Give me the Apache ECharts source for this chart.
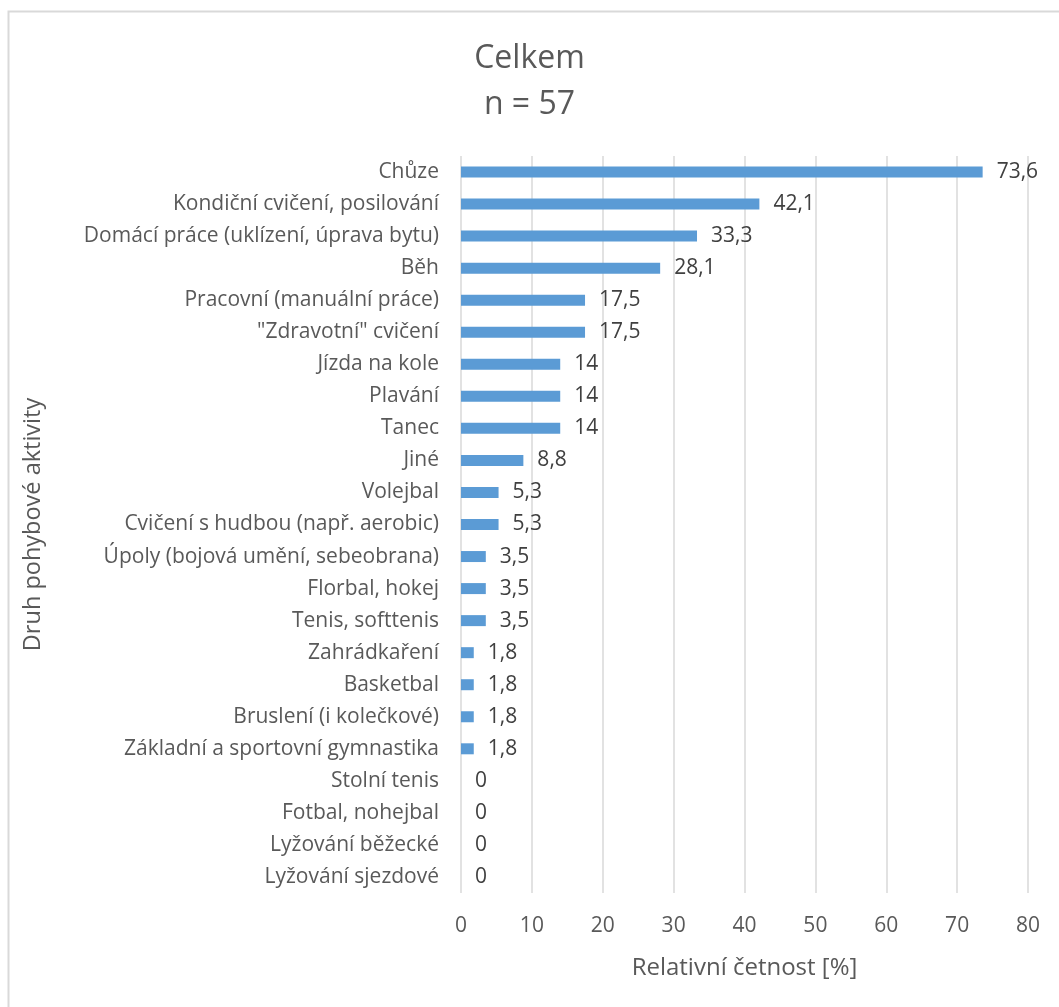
<!DOCTYPE html>
<html><head><meta charset="utf-8">
<script src="https://cdn.jsdelivr.net/npm/echarts@6/dist/echarts.min.js"></script>
<style>html,body{margin:0;padding:0;background:#fff}#c{width:1059px;height:1007px}</style>
</head><body><div id="c"></div>
<script>
const categories = ["Chůze","Kondiční cvičení, posilování","Domácí práce (uklízení, úprava bytu)","Běh","Pracovní (manuální práce)","\"Zdravotní\" cvičení","Jízda na kole","Plavání","Tanec","Jiné","Volejbal","Cvičení s hudbou (např. aerobic)","Úpoly (bojová umění, sebeobrana)","Florbal, hokej","Tenis, softtenis","Zahrádkaření","Basketbal","Bruslení (i kolečkové)","Základní a sportovní gymnastika","Stolní tenis","Fotbal, nohejbal","Lyžování běžecké","Lyžování sjezdové"];
const values = [73.6,42.1,33.3,28.1,17.5,17.5,14,14,14,8.8,5.3,5.3,3.5,3.5,3.5,1.8,1.8,1.8,1.8,0,0,0,0];
const xTicks = [0,10,20,30,40,50,60,70,80];
const titleText = "Celkem\nn = 57";
const xName = "Relativní četnost [%]";
const yName = "Druh pohybové aktivity";

const FONT = "Open Sans";
const chart = echarts.init(document.getElementById('c'), null, {renderer:'canvas'});
chart.setOption({
  animation:false,
  backgroundColor:'#fff',
  graphic:[{type:'rect',shape:{x:8.5,y:11.5,width:1100,height:1100},style:{fill:'none',stroke:'#d9d9d9',lineWidth:2},silent:true}],
  title:{text:titleText,left:'center',top:31,textStyle:{fontFamily:FONT,fontSize:32,fontWeight:'normal',color:'#595959',lineHeight:46}},
  grid:{left:461,right:31,top:156,bottom:114,containLabel:false},
  xAxis:{type:'value',min:xTicks[0],max:xTicks[xTicks.length-1],interval:10,
    name:xName,nameLocation:'middle',nameGap:63,nameTextStyle:{fontFamily:FONT,fontSize:24,color:'#595959'},
    axisLine:{show:false},axisTick:{show:false},
    axisLabel:{fontFamily:FONT,fontSize:21,color:'#595959',margin:23},
    splitLine:{show:true,lineStyle:{color:'#d9d9d9',width:1.5}}},
  yAxis:{type:'category',data:categories,inverse:true,
    name:yName,nameLocation:'middle',nameGap:416,nameRotate:90,nameTextStyle:{fontFamily:FONT,fontSize:23.5,color:'#595959'},
    axisLine:{show:false},axisTick:{show:false},
    axisLabel:{fontFamily:FONT,fontSize:21,color:'#595959',margin:22}},
  series:[{type:'bar',data:values,barWidth:11,itemStyle:{color:'#5b9bd5'},
    label:{show:true,position:'right',distance:14,fontFamily:FONT,fontSize:21,color:'#404040',
      formatter:p=>String(p.value).replace('.',',')}}]
});
</script></body></html>
